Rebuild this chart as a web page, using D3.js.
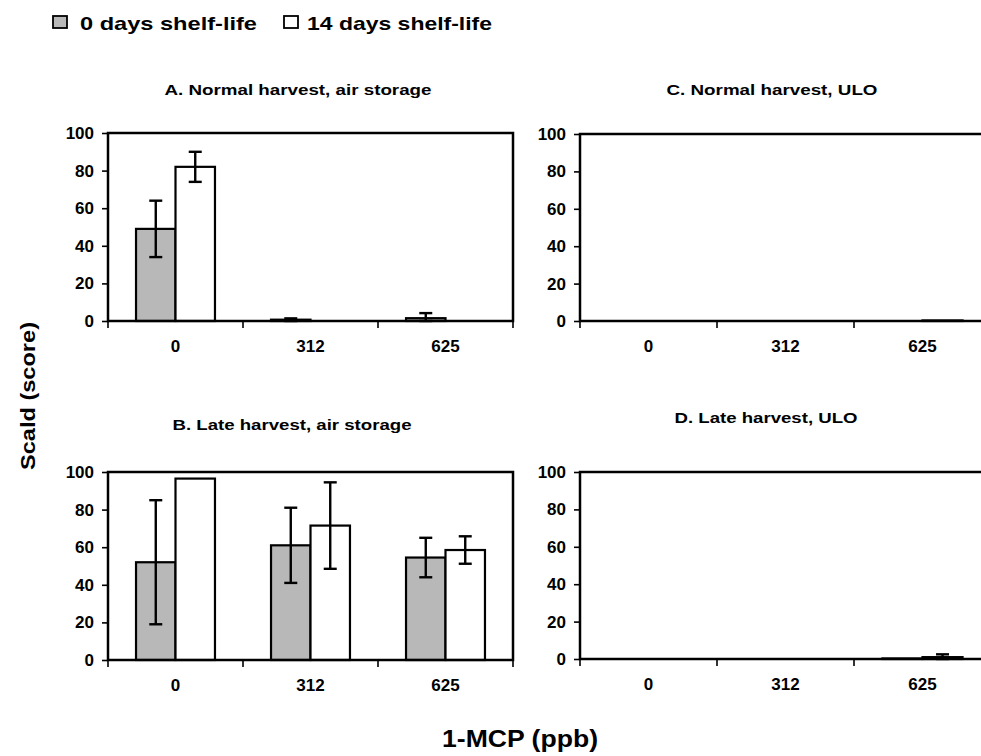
<!DOCTYPE html>
<html><head><meta charset="utf-8">
<script src="https://cdn.jsdelivr.net/npm/d3@7"></script>
<style>
body{margin:0;background:#fff}
text{font-family:Arial,"Liberation Sans",Helvetica,sans-serif;font-weight:bold;fill:#000}
</style>
</head><body>
<svg id="c" width="981" height="756"></svg>
<script>
// ---------- data ----------
const categories = ["0", "312", "625"];
const seriesNames = ["0 days shelf-life", "14 days shelf-life"];
const panelTitles = ["A. Normal harvest, air storage", "B. Late harvest, air storage",
                     "C. Normal harvest, ULO", "D. Late harvest, ULO"];
const yTicks = [0, 20, 40, 60, 80, 100];

const A_day0 = [49, 0.7, 1.5],   A_day0_err = [15, 0.7, 2.7];
const A_day14 = [82, 0, 0],      A_day14_err = [8, 0, 0];
const B_day0 = [52, 61, 54.5],   B_day0_err = [33, 20, 10.5];
const B_day14 = [96.5, 71.5, 58.5], B_day14_err = [0, 23, 7.3];
const C_day0 = [0, 0, 0],        C_day0_err = [0, 0, 0];
const C_day14 = [0, 0, 0.3],     C_day14_err = [0, 0, 0];
const D_day0 = [0, 0, 0.3],      D_day0_err = [0, 0, 0];
const D_day14 = [0, 0, 1],       D_day14_err = [0, 0, 1.5];

const xTitle = "1-MCP (ppb)";
const yTitle = "Scald  (score)";

// ---------- layout ----------
const panels = [
  {title: panelTitles[0], v: [A_day0, A_day14], e: [A_day0_err, A_day14_err],
   l: 108, r: 513, t: 133, b: 321, tx: 298, ty: 95, tw: 267},
  {title: panelTitles[1], v: [B_day0, B_day14], e: [B_day0_err, B_day14_err],
   l: 108, r: 513, t: 472, b: 660, tx: 292, ty: 430, tw: 239},
  {title: panelTitles[2], v: [C_day0, C_day14], e: [C_day0_err, C_day14_err],
   l: 580, r: 991, t: 134, b: 321, tx: 772, ty: 95, tw: 211},
  {title: panelTitles[3], v: [D_day0, D_day14], e: [D_day0_err, D_day14_err],
   l: 580, r: 991, t: 472, b: 659, tx: 766, ty: 423, tw: 183}
];
const fills = ["#b8b8b8", "#ffffff"];

const svg = d3.select("#c");

panels.forEach(p => {
  const g = svg.append("g");
  const x0 = d3.scaleBand().domain(categories).range([p.l, p.r]).padding(0);
  const x1 = d3.scaleBand().domain(seriesNames).range([0, x0.bandwidth()])
               .paddingInner(0).paddingOuter(0.71);
  const y = d3.scaleLinear().domain([0, 100]).range([p.b, p.t]);

  g.append("rect").attr("x", p.l).attr("y", p.t)
   .attr("width", p.r - p.l).attr("height", p.b - p.t).attr("fill", "#fff");

  seriesNames.forEach((s, si) => {
    g.selectAll(null).data(categories).enter().append("rect")
      .attr("x", c => x0(c) + x1(s))
      .attr("y", (c, i) => y(p.v[si][i]))
      .attr("width", x1.bandwidth())
      .attr("height", (c, i) => y(0) - y(p.v[si][i]))
      .attr("fill", fills[si]).attr("stroke", "#000").attr("stroke-width", 2.2);
  });

  seriesNames.forEach((s, si) => {
    categories.forEach((c, i) => {
      const v = p.v[si][i], e = p.e[si][i];
      if (!e) return;
      const cx = x0(c) + x1(s) + x1.bandwidth() / 2;
      const lo = Math.max(0, v - e), hi = Math.min(100, v + e);
      g.append("line").attr("x1", cx).attr("x2", cx).attr("y1", y(lo)).attr("y2", y(hi))
        .attr("stroke", "#000").attr("stroke-width", 2.4);
      [lo, hi].forEach(val => {
        g.append("line").attr("x1", cx - 6.5).attr("x2", cx + 6.5)
          .attr("y1", y(val)).attr("y2", y(val))
          .attr("stroke", "#000").attr("stroke-width", 2.4);
      });
    });
  });

  g.append("rect").attr("x", p.l).attr("y", p.t)
   .attr("width", p.r - p.l).attr("height", p.b - p.t)
   .attr("fill", "none").attr("stroke", "#000").attr("stroke-width", 2.5);

  const ya = g.append("g").attr("transform", `translate(${p.l},0)`)
    .call(d3.axisLeft(y).tickValues(yTicks).tickSize(6).tickPadding(8));
  ya.select(".domain").remove();
  ya.selectAll(".tick line").attr("stroke", "#000").attr("stroke-width", 1.6);
  ya.selectAll(".tick text").style("font-size", "17px").style("font-family", "Arial, 'Liberation Sans', sans-serif")
    .style("font-weight", "bold").attr("fill", "#000");

  const xa = g.append("g").attr("transform", `translate(0,${p.b})`)
    .call(d3.axisBottom(x0).tickSize(0).tickPadding(19));
  xa.select(".domain").remove();
  xa.selectAll(".tick text").style("font-size", "17px").style("font-family", "Arial, 'Liberation Sans', sans-serif")
    .style("font-weight", "bold").attr("fill", "#000");

  const bounds = categories.map(c => x0(c)).concat([x0(categories[categories.length - 1]) + x0.bandwidth()]);
  g.selectAll(null).data(bounds).enter().append("line")
    .attr("x1", d => d).attr("x2", d => d).attr("y1", p.b).attr("y2", p.b + 7)
    .attr("stroke", "#000").attr("stroke-width", 1.6);

  g.append("text").attr("x", p.tx).attr("y", p.ty).attr("text-anchor", "middle")
    .attr("textLength", p.tw).attr("lengthAdjust", "spacingAndGlyphs")
    .style("font-size", "15px").text(p.title);
});

const legend = [
  {sx: 53, tx: 80, tw: 177},
  {sx: 284, tx: 307, tw: 185}
];
seriesNames.forEach((s, i) => {
  svg.append("rect").attr("x", legend[i].sx).attr("y", 16).attr("width", 14).attr("height", 12)
    .attr("fill", fills[i]).attr("stroke", "#000").attr("stroke-width", 1.8);
  svg.append("text").attr("x", legend[i].tx).attr("y", 30)
    .attr("textLength", legend[i].tw).attr("lengthAdjust", "spacingAndGlyphs")
    .style("font-size", "18.5px").text(s);
});

svg.append("text").attr("x", 520).attr("y", 747).attr("text-anchor", "middle")
  .attr("textLength", 156).attr("lengthAdjust", "spacingAndGlyphs")
  .style("font-size", "23px").text(xTitle);
svg.append("text").attr("transform", "translate(35,396) rotate(-90)").attr("text-anchor", "middle")
  .attr("textLength", 148).attr("lengthAdjust", "spacingAndGlyphs")
  .style("font-size", "20px").text(yTitle);
</script>
</body></html>
